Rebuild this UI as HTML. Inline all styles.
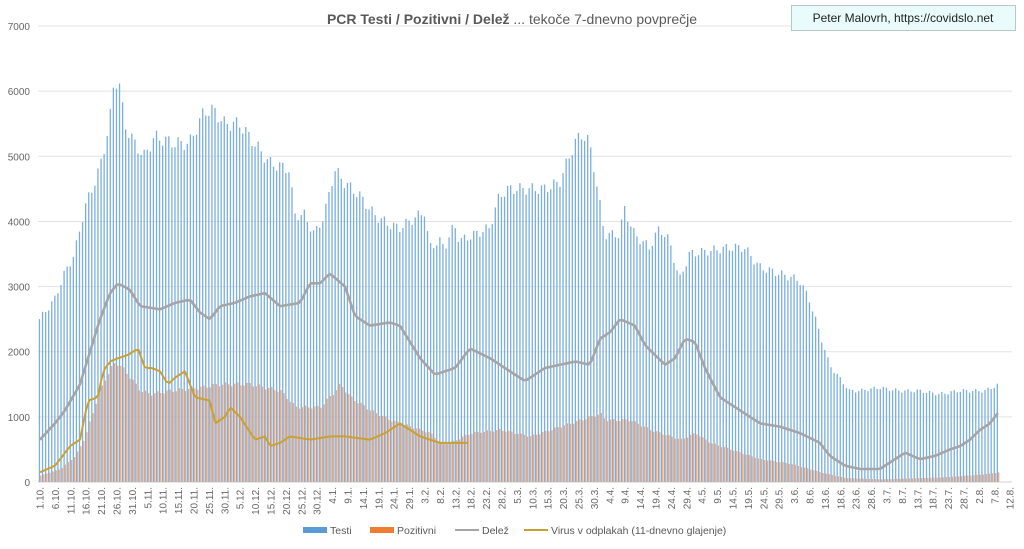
<!DOCTYPE html>
<html><head><meta charset="utf-8"><style>
body{margin:0;background:#fff;}
svg{display:block;font-family:"Liberation Sans",sans-serif;}
</style></head><body>
<svg id="c" width="1024" height="549" xmlns="http://www.w3.org/2000/svg"></svg>
<script>
const s=document.getElementById('c');
let h='';
const X0=40,DX=3.08,Y0=482,PY=0.06514;
const yv=v=>Y0-v*PY;
function interp(pts,x){for(let i=0;i<pts.length-1;i++){if(x>=pts[i][0]&&x<=pts[i+1][0]){const t=(x-pts[i][0])/(pts[i+1][0]-pts[i][0]);return pts[i][1]+t*(pts[i+1][1]-pts[i][1]);}}return null;}
function P(a){const r=[];for(let i=0;i<a.length;i+=2)r.push([a[i],a[i+1]]);return r;}
const T=P([40,2500,55,2800,65,3200,75,3500,85,4200,100,4800,110,5500,115,6200,120,6100,125,5500,135,5200,145,5000,155,5300,175,5200,190,5200,205,5700,215,5700,225,5500,240,5500,255,5200,270,4900,290,4800,295,4100,305,4100,315,3800,325,4100,335,4800,345,4600,360,4400,375,4100,390,3950,400,3900,410,4000,425,4150,430,3600,440,3700,445,3600,455,3950,460,3700,475,3800,490,3900,500,4400,510,4500,525,4500,545,4500,560,4600,570,5000,575,5200,583,5350,590,5200,595,4800,605,3800,620,3800,625,4200,635,3800,650,3600,660,3900,670,3700,680,3100,690,3500,710,3550,730,3600,745,3600,760,3300,780,3200,800,3100,810,2800,820,2300,830,1800,840,1600,850,1400,860,1400,880,1450,900,1400,920,1400,940,1350,960,1400,985,1400,1000,1500]);
const Pz=P([40,100,60,200,75,400,85,700,95,1200,105,1600,115,1850,125,1700,140,1400,150,1350,170,1400,200,1450,220,1500,250,1500,280,1400,295,1150,320,1150,335,1400,340,1500,350,1300,370,1100,390,950,410,850,430,750,440,600,450,600,470,750,500,800,530,700,560,850,580,950,600,1050,605,950,630,950,650,800,680,650,695,750,710,600,730,500,760,350,790,280,820,150,845,60,880,40,900,50,940,70,960,90,985,120,1000,150]);
const D=P([40,650,55,900,65,1100,80,1500,90,2000,100,2500,110,2900,118,3050,130,2950,140,2700,160,2650,175,2750,190,2800,200,2600,210,2500,220,2700,235,2750,250,2850,265,2900,280,2700,300,2750,310,3050,320,3050,330,3200,345,3000,355,2550,370,2400,390,2450,400,2400,410,2150,420,1900,435,1650,455,1750,470,2050,490,1900,510,1700,525,1550,545,1750,560,1800,575,1850,590,1800,600,2200,610,2300,620,2500,635,2400,645,2100,665,1800,675,1900,685,2200,695,2150,705,1750,720,1300,735,1150,760,900,780,850,800,750,820,600,830,400,845,250,860,200,880,200,895,350,905,450,920,350,935,400,950,500,960,550,970,650,980,800,990,900,1000,1100]);
const V=P([40,150,55,250,70,550,80,650,88,1250,98,1300,103,1700,110,1850,118,1900,128,1950,138,2050,145,1750,152,1750,160,1700,168,1500,175,1600,185,1700,195,1300,210,1250,215,900,225,1000,230,1150,240,1000,255,650,265,700,270,550,280,600,290,700,310,650,330,700,345,700,370,650,385,750,400,900,410,800,420,700,430,650,440,600,460,600,470,600]);
for(let k=0;k<=7;k++){const y=yv(k*1000);h+=`<line x1="38" x2="1012" y1="${y}" y2="${y}" stroke="${k?'#e3e3e3':'#d0d0d0'}" stroke-width="1"/>`;h+=`<text x="30" y="${y+4}" font-size="10" fill="#666" text-anchor="end">${k*1000}</text>`;}
for(let d=0;d<=311;d++){const x=X0+d*DX;const t=interp(T,x),p=interp(Pz,x);const n=(Math.sin(d*1.7)*0.02+1);
if(t!=null)h+=`<rect x="${(x-1.2).toFixed(2)}" y="${yv(t*n).toFixed(1)}" width="1.3" height="${(t*n*PY).toFixed(1)}" fill="#7aaee0"/>`;
if(p!=null)h+=`<rect x="${(x+0.1).toFixed(2)}" y="${yv(p*n).toFixed(1)}" width="1.3" height="${(p*n*PY).toFixed(1)}" fill="#f2a878"/>`;}
function line(pts,col,w){let a=[];for(let x=pts[0][0];x<=pts[pts.length-1][0];x+=DX){a.push(x.toFixed(1)+','+yv(interp(pts,x)).toFixed(1));}return `<polyline points="${a.join(' ')}" fill="none" stroke="${col}" stroke-width="${w}" stroke-linejoin="round"/>`;}
h+=line(D,'#a5a5a5',2.6);
h+=line(V,'#c9a032',2);
const months=[[10,31],[11,30],[12,31],[1,31],[2,28],[3,31],[4,30],[5,31],[6,30],[7,31],[8,31]];
let mi=0,day=1;
for(let d=0;d<=315;d++){if(d%5==0){const x=X0+d*DX;h+=`<text transform="translate(${(x+3.5).toFixed(1)},487) rotate(-90)" font-size="10" fill="#666" text-anchor="end">${day}.${months[mi][0]}.</text>`;}
day++;if(day>months[mi][1]){day=1;mi++;}}
h+=`<text x="512" y="24" font-size="14" fill="#595959" text-anchor="middle"><tspan font-weight="bold">PCR Testi / Pozitivni / Delež</tspan> ... tekoče 7-dnevno povprečje</text>`;
h+=`<rect x="791.5" y="5.5" width="224" height="25" fill="#e9fbfb" stroke="#b8c8c8"/><text x="903" y="22" font-size="12" fill="#222" text-anchor="middle">Peter Malovrh, https://covidslo.net</text>`;
const L=[[303,'rect','#5b9bd5','Testi'],[370,'rect','#ed7d31','Pozitivni'],[455,'line','#a5a5a5','Delež'],[524,'line','#c9a032','Virus v odplakah (11-dnevno glajenje)']];
for(const [x,t,c,n] of L){if(t=='rect')h+=`<rect x="${x}" y="527" width="24" height="6" fill="${c}"/>`;else h+=`<line x1="${x}" x2="${x+24}" y1="530" y2="530" stroke="${c}" stroke-width="2"/>`;h+=`<text x="${x+27}" y="534" font-size="10.5" fill="#595959">${n}</text>`;}
s.innerHTML=h;
</script>
</body></html>
